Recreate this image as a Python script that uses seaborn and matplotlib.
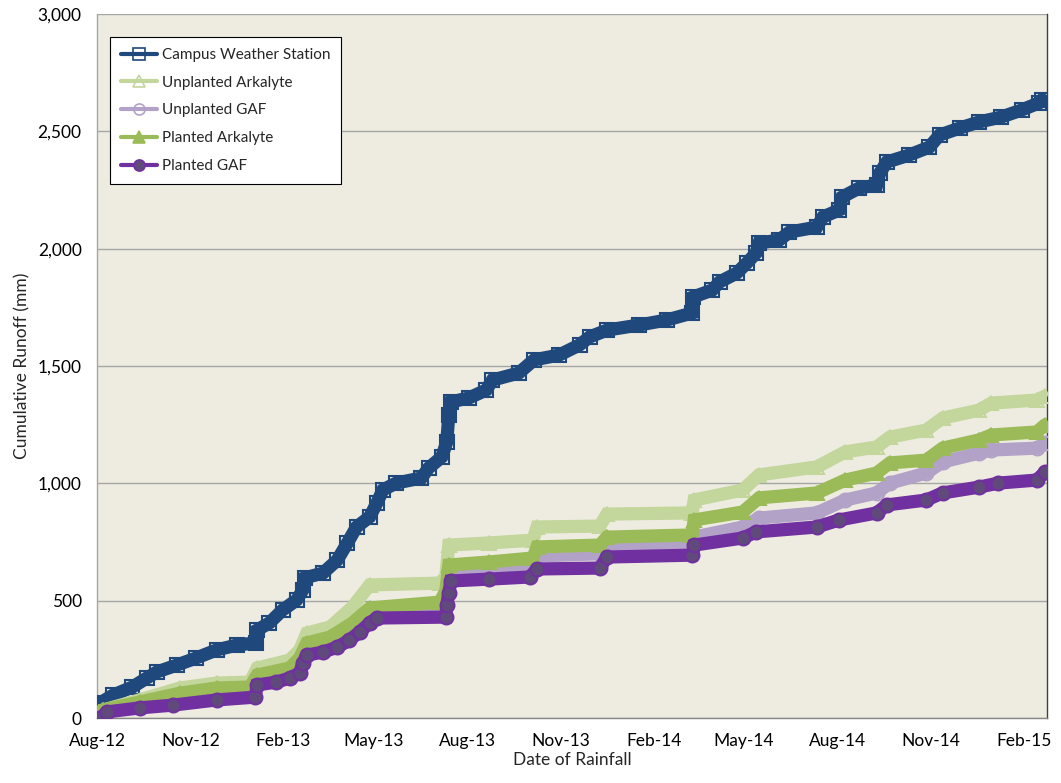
import pandas as pd
import matplotlib
matplotlib.use("Agg")
import matplotlib.pyplot as plt
import matplotlib.dates as mdates
from matplotlib.lines import Line2D
from matplotlib.ticker import FuncFormatter, MultipleLocator
import seaborn as sns

# --- dados ---
campus_dates = ['2012-08-02', '2012-08-04', '2012-08-17', '2012-09-05', '2012-09-19', '2012-09-29',
                '2012-10-19', '2012-11-07', '2012-11-27', '2012-12-17', '2013-01-05', '2013-01-06',
                '2013-01-18', '2013-01-31', '2013-02-14', '2013-02-20', '2013-02-22', '2013-03-12',
                '2013-03-26', '2013-04-05', '2013-04-14', '2013-04-27', '2013-05-04', '2013-05-10',
                '2013-05-23', '2013-06-17', '2013-06-24', '2013-07-07', '2013-07-12', '2013-07-14',
                '2013-07-16', '2013-08-03', '2013-08-20', '2013-08-26', '2013-09-21', '2013-10-06',
                '2013-10-31', '2013-11-20', '2013-11-30', '2013-12-17', '2014-01-18', '2014-02-14',
                '2014-03-11', '2014-03-12', '2014-03-31', '2014-04-07', '2014-04-24', '2014-05-04',
                '2014-05-13', '2014-05-16', '2014-06-05', '2014-06-15', '2014-07-12', '2014-07-18',
                '2014-08-03', '2014-08-06', '2014-08-23', '2014-09-09', '2014-09-12', '2014-09-19',
                '2014-10-11', '2014-10-31', '2014-11-10', '2014-11-30', '2014-12-19', '2015-01-10',
                '2015-01-30', '2015-02-16', '2015-02-19']
campus_mm = [0, 64, 98, 132, 170, 196,
             226, 256, 290, 311, 320, 375,
             405, 460, 503, 545, 597, 618,
             673, 746, 814, 857, 916, 972,
             1001, 1023, 1065, 1112, 1176, 1291,
             1347, 1364, 1398, 1440, 1470, 1526,
             1547, 1590, 1624, 1653, 1675, 1696,
             1726, 1794, 1824, 1858, 1896, 1939,
             1981, 2024, 2037, 2071, 2092, 2135,
             2165, 2220, 2259, 2271, 2322, 2369,
             2399, 2433, 2484, 2514, 2540, 2561,
             2591, 2621, 2635]

lower_dates = ['2012-08-04', '2012-08-07', '2012-09-12', '2012-10-22', '2012-11-27', '2012-12-30',
               '2013-01-06', '2013-02-07', '2013-02-17', '2013-02-24', '2013-03-19', '2013-04-10',
               '2013-04-27', '2013-07-05', '2013-07-11', '2013-07-14', '2013-08-23', '2013-10-05',
               '2013-10-09', '2013-12-10', '2013-12-17', '2014-03-11', '2014-03-13', '2014-04-30',
               '2014-05-16', '2014-07-12', '2014-08-09', '2014-09-09', '2014-09-22', '2014-10-28',
               '2014-11-13', '2014-12-19', '2014-12-31', '2015-02-14', '2015-02-22']
unpl_ark_mm = [0, 34, 77, 128, 149, 153,
               213, 247, 290, 362, 388, 473,
               567, 575, 601, 737, 746, 758,
               814, 818, 869, 874, 929, 972,
               1036, 1070, 1134, 1155, 1197, 1227,
               1278, 1312, 1342, 1355, 1372]
unpl_gaf_mm = [0, 30, 62, 98, 120, 124,
               175, 205, 245, 305, 330, 388,
               450, 465, 515, 612, 620, 630,
               690, 700, 725, 728, 771, 814,
               852, 874, 929, 959, 1001, 1044,
               1091, 1129, 1142, 1150, 1170]
pl_ark_mm = [0, 34, 68, 106, 128, 132,
             183, 213, 256, 320, 345, 405,
             469, 494, 540, 652, 665, 682,
             729, 737, 771, 780, 844, 878,
             938, 959, 1014, 1044, 1087, 1099,
             1150, 1185, 1206, 1219, 1249]

pl_gaf_dates = ['2012-08-04', '2012-08-11', '2012-09-12', '2012-10-15', '2012-11-27', '2013-01-04',
                '2013-01-06', '2013-01-25', '2013-02-07', '2013-02-17', '2013-02-20', '2013-02-24',
                '2013-03-12', '2013-03-26', '2013-04-07', '2013-04-17', '2013-04-27', '2013-05-04',
                '2013-07-11', '2013-07-12', '2013-07-14', '2013-07-16', '2013-08-23', '2013-10-02',
                '2013-10-09', '2013-12-10', '2013-12-17', '2014-03-11', '2014-03-13', '2014-04-30',
                '2014-05-13', '2014-07-12', '2014-08-03', '2014-09-09', '2014-09-19', '2014-10-28',
                '2014-11-13', '2014-12-19', '2015-01-07', '2015-02-14', '2015-02-22']
pl_gaf_mm = [0, 26, 43, 55, 77, 89,
             141, 153, 170, 192, 234, 268,
             281, 302, 332, 366, 405, 426,
             430, 481, 533, 584, 592, 601,
             635, 639, 686, 694, 737, 767,
             793, 814, 844, 874, 908, 929,
             959, 984, 1001, 1014, 1048]

# --- estilo de cada série ---
series = [
    ('Campus Weather Station', campus_dates, campus_mm,
     dict(color='#1F497D', marker='s', mfc='none', mec='#1F497D')),
    ('Unplanted Arkalyte', lower_dates, unpl_ark_mm,
     dict(color='#C3D69B', marker='^', mfc='none', mec='#C3D69B')),
    ('Unplanted GAF', lower_dates, unpl_gaf_mm,
     dict(color='#B3A2C7', marker='o', mfc='none', mec='#B3A2C7')),
    ('Planted Arkalyte', lower_dates, pl_ark_mm,
     dict(color='#9BBB59', marker='^', mfc='#9BBB59', mec='#9BBB59')),
    ('Planted GAF', pl_gaf_dates, pl_gaf_mm,
     dict(color='#7030A0', marker='o', mfc='#604A7B', mec='#7030A0')),
]

sns.set_theme(style="white")
plt.rcParams['font.family'] = ['Lato', 'DejaVu Sans']

fig = plt.figure(figsize=(10.61, 7.83), dpi=100)
ax = fig.add_axes([0.0914, 0.083, 0.8954, 0.8991])
ax.set_facecolor('#EEECE1')

handles = []
for name, dts, vals, st in series:
    df = pd.DataFrame({'date': pd.to_datetime(dts), 'mm': vals})
    sns.lineplot(data=df, x='date', y='mm', ax=ax, color=st['color'], linewidth=9.5,
                 marker=st['marker'], markersize=10, markerfacecolor=st['mfc'],
                 markeredgecolor=st['mec'], markeredgewidth=1.5, solid_joinstyle='miter',
                 estimator=None, sort=False, zorder=3)
    handles.append(Line2D([], [], color=st['color'], lw=3, marker=st['marker'],
                          markersize=8, markerfacecolor=st['mfc'], markeredgecolor=st['mec'],
                          markeredgewidth=1.2))

ax.set_xlim(pd.Timestamp('2012-08-01'), pd.Timestamp('2015-02-24'))
ax.set_ylim(0, 3000)
ax.yaxis.set_major_locator(MultipleLocator(500))
ax.yaxis.set_major_formatter(FuncFormatter(lambda v, p: f'{int(v):,}'))
ax.xaxis.set_major_locator(mdates.MonthLocator(bymonth=[2, 5, 8, 11]))
ax.xaxis.set_major_formatter(mdates.DateFormatter('%b-%y'))

ax.grid(axis='y', color='#A6A6A6', linewidth=1.0, zorder=0)
ax.grid(axis='x', visible=False)
ax.set_axisbelow(True)

ax.spines['top'].set_visible(False)
ax.spines['left'].set_color('#A6A6A6')
ax.spines['bottom'].set_color('#868686')
ax.spines['right'].set_color('#404040')
for s in ['left', 'bottom', 'right']:
    ax.spines[s].set_linewidth(1.0)

ax.tick_params(axis='both', which='major', direction='out', length=5, width=1,
               labelsize=12.5, labelcolor='#000000', pad=6)
ax.tick_params(axis='y', color='#A6A6A6')
ax.tick_params(axis='x', color='#868686')

ax.set_xlabel('Date of Rainfall', fontsize=12.5, labelpad=2)
ax.set_ylabel('Cumulative Runoff (mm)', fontsize=12.5, labelpad=5)

leg = ax.legend(handles, [s[0] for s in series], loc='upper left',
                bbox_to_anchor=(0.0137, 0.967), borderaxespad=0, fontsize=11,
                frameon=True, fancybox=False, framealpha=1, edgecolor='#000000',
                labelspacing=0.9, handlelength=2.4, handletextpad=0.3, borderpad=0.7)
leg.get_frame().set_linewidth(0.8)
leg.set_zorder(5)

fig.savefig('out.png', dpi=100, facecolor='white')
